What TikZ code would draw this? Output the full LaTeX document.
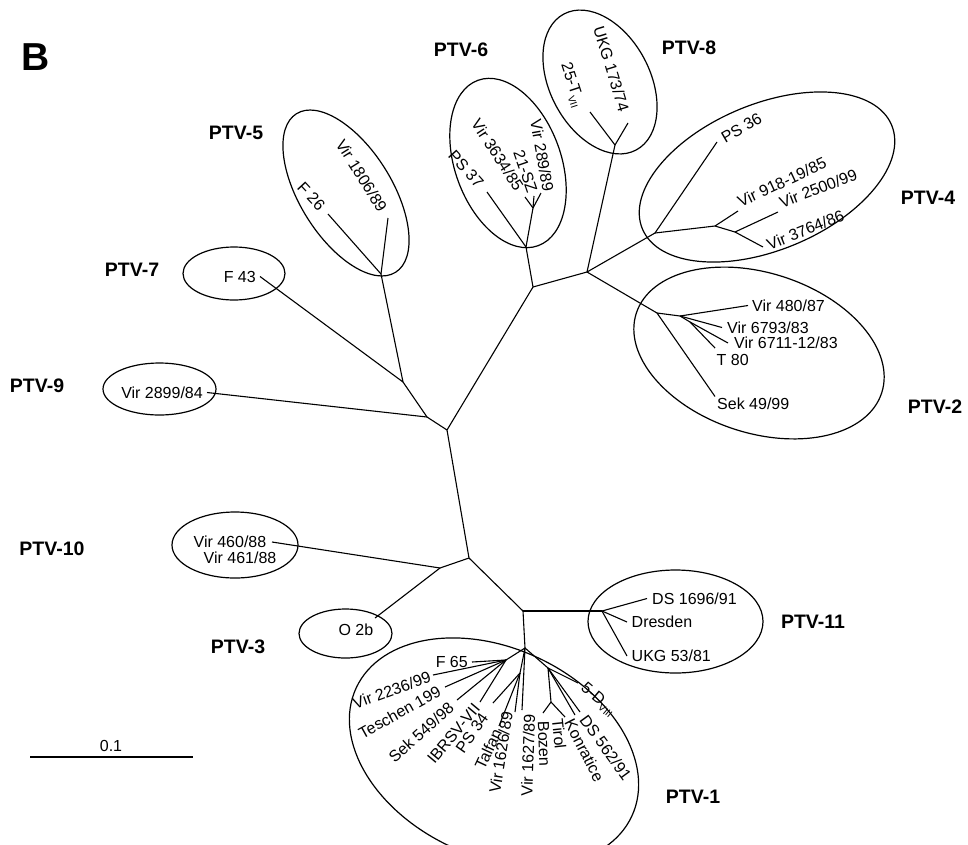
\documentclass[tikz,border=0pt]{standalone}
\usepackage{fontspec}
\setmainfont{Liberation Sans}
\usetikzlibrary{shapes.geometric}

\newcommand{\lowcap}[1]{\raisebox{-0.45ex}{\fontsize{10}{10}\selectfont #1}}

\begin{document}
\begin{tikzpicture}[
    x=1pt, y=-1pt,
    leaf/.style={font=\fontsize{16}{18}\selectfont, inner xsep=1.5pt, inner ysep=1.5pt},
    clade/.style={font=\fontsize{19.5}{22}\selectfont\bfseries},
    group/.style={ellipse, draw, line width=1.2pt, inner sep=0pt},
    branch/.style={line width=1.1pt}
]
\useasboundingbox (0,0) rectangle (968,844);

% panel letter and scale bar
\node[font=\fontsize{39}{40}\selectfont\bfseries] (panel) at (36,57) {B};
\coordinate (sbl) at (30,757);
\coordinate (sbr) at (193,757);
\node[leaf] (scale) at (111,746) {0.1};
\draw[line width=1.2pt] (sbl) -- (sbr);

% inner nodes of the tree
\coordinate (a) at (447,430);
\coordinate (j1) at (427,417);
\coordinate (j2) at (403,382);
\coordinate (j3) at (381,274);
\coordinate (b) at (533,287);
\coordinate (j6) at (526,247);
\coordinate (j6b) at (533,208);
\coordinate (j48) at (587,272);
\coordinate (j8) at (615,145);
\coordinate (j4) at (655,233);
\coordinate (j4b) at (715,226);
\coordinate (j4c) at (735,232);
\coordinate (j2x) at (657,313);
\coordinate (j2y) at (680,316);
\coordinate (j2z) at (690,322);
\coordinate (j0) at (469,558);
\coordinate (j10) at (440,568);
\coordinate (j11) at (523,611);
\coordinate (jd) at (602,611);
\coordinate (jf) at (525,648);
\coordinate (jl) at (506,660);
\coordinate (jm) at (520,673);
\coordinate (jr) at (548,668);
\coordinate (jbt) at (551,702);

% clade ellipses
\node[group, minimum width=187pt, minimum height=92pt, rotate=-58] (g5) at (346,193) {};
\node[group, minimum width=102pt, minimum height=53pt] (g7) at (234,273.5) {};
\node[group, minimum width=113pt, minimum height=52pt] (g9) at (159.5,389) {};
\node[group, minimum width=126pt, minimum height=66pt] (g10) at (235,545) {};
\node[group, minimum width=93pt, minimum height=49pt] (g3) at (345.5,633.5) {};
\node[group, minimum width=176pt, minimum height=106pt, rotate=-70] (g6) at (508,163) {};
\node[group, minimum width=154pt, minimum height=100pt, rotate=-62] (g8) at (600,82) {};
\node[group, minimum width=270pt, minimum height=146pt, rotate=22.6] (g4) at (767,177) {};
\node[group, minimum width=258pt, minimum height=160pt, rotate=-18] (g2) at (759,353) {};
\node[group, minimum width=175pt, minimum height=103pt] (g11) at (675.5,621.5) {};
\node[group, minimum width=304pt, minimum height=208pt, rotate=-25] (g1) at (494,752) {};

% clade names
\node[clade] (ptv1) at (693,797) {PTV-1};
\node[clade] (ptv2) at (935,407) {PTV-2};
\node[clade] (ptv3) at (238,647) {PTV-3};
\node[clade] (ptv4) at (928,198) {PTV-4};
\node[clade] (ptv5) at (236,133) {PTV-5};
\node[clade] (ptv6) at (461,50) {PTV-6};
\node[clade] (ptv7) at (132,270) {PTV-7};
\node[clade] (ptv8) at (689,48) {PTV-8};
\node[clade] (ptv9) at (37,386) {PTV-9};
\node[clade] (ptv10) at (52,549) {PTV-10};
\node[clade] (ptv11) at (813,622) {PTV-11};

% strains, upper half
\node[leaf, anchor=east, inner xsep=4pt] (v2899) at (207,392.5) {Vir 2899/84};
\node[leaf, anchor=east, inner xsep=4pt] (f43) at (260,276.5) {F 43};
\node[leaf, anchor=east, rotate=-47, inner xsep=8.3pt] (f26) at (328,214) {F 26};
\node[leaf, anchor=east, rotate=-58, inner xsep=8.9pt] (v1806) at (388,218) {Vir 1806/89};
\node[leaf, anchor=east, rotate=-48, inner xsep=9.3pt] (ps37) at (487,192) {PS 37};
\node[leaf, anchor=east, rotate=-57, inner xsep=9.5pt] (v3634) at (525,197) {Vir 3634/85};
\node[leaf, anchor=east, rotate=-71, inner xsep=4pt] (sz21) at (534,196) {21-SZ};
\node[leaf, anchor=south east, rotate=-80, inner xsep=0pt] (v289) at (541,193) {Vir 289/89};
\node[leaf, anchor=north east, rotate=-72, inner xsep=8.4pt] (t25) at (590,112) {25-T\lowcap{VII}};
\node[leaf, anchor=east, rotate=-73, inner xsep=12.5pt] (ukg173) at (628,123) {UKG 173/74};
\node[leaf, anchor=west, rotate=30, inner xsep=6.2pt] (ps36) at (717,142) {PS 36};
\node[leaf, anchor=south west, rotate=25, inner xsep=3.8pt] (v918) at (738,211) {Vir 918-19/85};
\node[leaf, anchor=south west, rotate=21, inner xsep=5pt] (v2500) at (778,212) {Vir 2500/99};
\node[leaf, anchor=west, rotate=22, inner xsep=4.7pt] (v3764) at (763,247) {Vir 3764/86};
\node[leaf, anchor=west, inner xsep=4pt] (v480) at (748,305.5) {Vir 480/87};
\node[leaf, anchor=west, inner xsep=5pt] (v6793) at (722,327.5) {Vir 6793/83};
\node[leaf, anchor=west, inner xsep=6pt] (v6711) at (728,343) {Vir 6711-12/83};
\node[leaf, anchor=north west, inner ysep=6pt] (t80) at (715,348) {T 80};
\node[leaf, anchor=north west, inner xsep=2pt] (sek49) at (715,396.5) {Sek 49/99};

% strains, lower half
\node[leaf, anchor=east, inner xsep=5.5pt] (v460) at (272,542) {Vir 460/88};
\node[leaf] (v461) at (240,557.5) {Vir 461/88};
\node[leaf, anchor=north east, inner ysep=6pt] (o2b) at (375,618) {O 2b};
\node[leaf, anchor=west, inner xsep=5pt] (ds1696) at (647,598.5) {DS 1696/91};
\node[leaf, anchor=west, inner xsep=4.5pt] (dresden) at (627,622) {Dresden};
\node[leaf, anchor=west, inner xsep=4.5pt] (ukg53) at (627,656) {UKG 53/81};
\node[leaf, anchor=east, inner xsep=4pt] (f65) at (472,662) {F 65};
\node[leaf, anchor=east, rotate=20, inner xsep=2.9pt] (v2236) at (433,675) {Vir 2236/99};
\node[leaf, anchor=east, rotate=29, inner xsep=6.3pt] (teschen) at (445,687) {Teschen 199};
\node[leaf, anchor=east, rotate=42, inner xsep=7.5pt] (sek549) at (457,700) {Sek 549/98};
\node[leaf, anchor=east, rotate=50, inner xsep=4.9pt] (ibrsv) at (480,702) {IBRSV-VII};
\node[leaf, anchor=east, rotate=55, inner xsep=14.7pt] (ps34) at (493,703) {PS 34};
\node[leaf, anchor=east, rotate=65, inner xsep=4pt] (talfan) at (499,726) {Talfan};
\node[leaf, anchor=south east, rotate=81, inner xsep=1.1pt] (v1626) at (515,712) {Vir 1626/89};
\node[leaf, anchor=north east, rotate=88, inner xsep=3.9pt] (v1627) at (522,710) {Vir 1627/89};
\node[leaf, anchor=west, rotate=-88, inner xsep=8pt] (bozen) at (543,713) {Bozen};
\node[leaf, anchor=north west, rotate=-84, inner xsep=0.5pt] (tirol) at (565,717) {Tirol};
\node[leaf, anchor=north west, rotate=-63, inner xsep=1.8pt] (konratice) at (575,715) {Konratice};
\node[leaf, anchor=west, rotate=-54, inner xsep=5.9pt] (ds562) at (580,712) {DS 562/91};
\node[leaf, anchor=west, rotate=-40, inner xsep=5.5pt] (d5) at (578,683) {5-D\lowcap{VIII}};

% branches
\draw[branch] (a) -- (j1);
\draw[branch] (j1) -- (v2899.east);
\draw[branch] (j1) -- (j2);
\draw[branch] (j2) -- (f43.east);
\draw[branch] (j2) -- (j3);
\draw[branch] (j3) -- (f26.east);
\draw[branch] (j3) -- (v1806.east);
\draw[branch] (a) -- (b);
\draw[branch] (b) -- (j6);
\draw[branch] (j6) -- (ps37.east);
\draw[branch] (j6) -- (j6b);
\draw[branch] (j6b) -- (v3634.east);
\draw[branch] (j6b) -- (sz21.east);
\draw[branch] (j6b) -- (v289.south east);
\draw[branch] (b) -- (j48);
\draw[branch] (j48) -- (j8);
\draw[branch] (j8) -- (t25.north east);
\draw[branch] (j8) -- (ukg173.east);
\draw[branch] (j48) -- (j4);
\draw[branch] (j4) -- (ps36.west);
\draw[branch] (j4) -- (j4b);
\draw[branch] (j4b) -- (v918.south west);
\draw[branch] (j4b) -- (j4c);
\draw[branch] (j4c) -- (v3764.west);
\draw[branch] (j4c) -- (v2500.south west);
\draw[branch] (j48) -- (j2x);
\draw[branch] (j2x) -- (sek49.north west);
\draw[branch] (j2x) -- (j2y);
\draw[branch] (j2y) -- (v480.west);
\draw[branch] (j2y) -- (v6793.west);
\draw[branch] (j2y) -- (j2z);
\draw[branch] (j2z) -- (v6711.west);
\draw[branch] (j2z) -- (t80.north west);
\draw[branch] (a) -- (j0);
\draw[branch] (j0) -- (j10);
\draw[branch] (j10) -- (v460.east);
\draw[branch] (j10) -- (o2b.north east);
\draw[branch] (j0) -- (j11);
\draw[branch] (j11) -- (jd);
\draw[branch] (jd) -- (ds1696.west);
\draw[branch] (jd) -- (dresden.west);
\draw[branch] (jd) -- (ukg53.west);
\draw[branch] (j11) -- (jf);
\draw[branch] (jf) -- (jl);
\draw[branch] (jl) -- (f65.east);
\draw[branch] (jl) -- (v2236.east);
\draw[branch] (jl) -- (teschen.east);
\draw[branch] (jl) -- (sek549.east);
\draw[branch] (jl) -- (ibrsv.east);
\draw[branch] (jf) -- (jm);
\draw[branch] (jm) -- (ps34.east);
\draw[branch] (jm) -- (talfan.east);
\draw[branch] (jm) -- (v1626.south east);
\draw[branch] (jf) -- (v1627.north east);
\draw[branch] (jf) -- (jr);
\draw[branch] (jr) -- (d5.west);
\draw[branch] (jr) -- (jbt);
\draw[branch] (jbt) -- (bozen.west);
\draw[branch] (jbt) -- (tirol.north west);
\draw[branch] (jr) -- (konratice.north west);
\draw[branch] (jr) -- (ds562.west);
\end{tikzpicture}
\end{document}
